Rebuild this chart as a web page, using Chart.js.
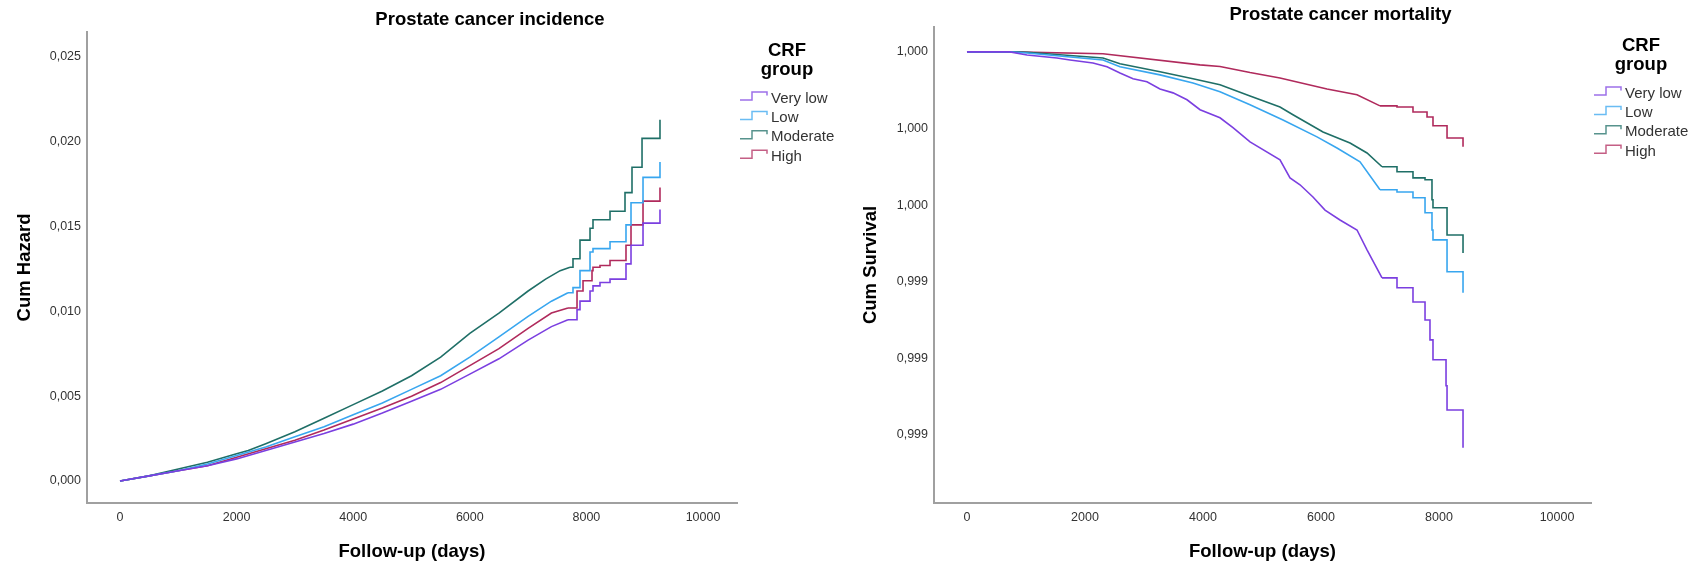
<!DOCTYPE html>
<html>
<head>
<meta charset="utf-8">
<script src="https://cdn.jsdelivr.net/npm/chart.js@4"></script>
<style>
  body { margin: 0; background: #fff; }
  #wrap { position: relative; width: 1693px; height: 566px; }
  canvas { position: absolute; top: 0; }
</style>
</head>
<body>
<div id="wrap">
  <canvas id="incChart" width="846" height="566" style="left:0"></canvas>
  <canvas id="mortChart" width="847" height="566" style="left:846px"></canvas>
</div>
<script>
const groups = ['Very low', 'Low', 'Moderate', 'High'];
const groupColors = ['#7b3fe0', '#38a6ef', '#1f6f67', '#b02a5c'];

const dayTicks = [0, 2000, 4000, 6000, 8000, 10000];
const hazardTicks = [0, 0.005, 0.010, 0.015, 0.020, 0.025];
const survivalTicks = [1.0, 0.9998, 0.9996, 0.9994, 0.9992, 0.9990];

// Prostate cancer incidence: [day, cum hazard]
const incVeryLow = [[0,0],[500,0.0003],[1000,0.0006],[1500,0.0009],[2000,0.0013],[2500,0.0018],[3000,0.0023],[3500,0.0028],[4000,0.00335],[4500,0.0040],[5000,0.0047],[5500,0.0054],[6000,0.0063],[6500,0.0072],[7000,0.0083],[7400,0.0091],[7684,0.0095],[7839,0.0101],[7890,0.0106],[8062,0.0112],[8113,0.0115],[8233,0.0117],[8405,0.0119],[8679,0.0128],[8765,0.0139],[8971,0.0152],[9262,0.0160]];
const incLow = [[0,0],[500,0.0003],[1000,0.0006],[1500,0.0010],[2000,0.0015],[2500,0.0020],[3000,0.0026],[3500,0.0032],[4000,0.0039],[4500,0.0046],[5000,0.0054],[5500,0.0062],[6000,0.0073],[6500,0.0085],[7000,0.0097],[7400,0.0106],[7684,0.0111],[7770,0.0114],[7890,0.0124],[8062,0.0135],[8113,0.0137],[8405,0.0141],[8679,0.0151],[8765,0.0164],[8971,0.0179],[9262,0.0188]];
const incModerate = [[0,0],[500,0.0003],[1000,0.0007],[1500,0.0011],[2000,0.0016],[2200,0.0018],[2500,0.0022],[3000,0.0029],[3500,0.0037],[4000,0.0045],[4500,0.0053],[5000,0.0062],[5500,0.0073],[6000,0.0087],[6500,0.0099],[7000,0.0112],[7300,0.0119],[7550,0.0124],[7719,0.0126],[7770,0.0131],[7890,0.0142],[8062,0.0149],[8113,0.0154],[8405,0.0159],[8662,0.0170],[8782,0.0185],[8954,0.0202],[9262,0.0213]];
const incHigh = [[0,0],[500,0.0003],[1000,0.0006],[1500,0.0009],[2000,0.0014],[2500,0.0019],[3000,0.0024],[3500,0.0030],[4000,0.00365],[4500,0.0043],[5000,0.0050],[5500,0.0058],[6000,0.0068],[6500,0.0078],[7000,0.0090],[7400,0.0099],[7684,0.0102],[7839,0.0112],[7942,0.0118],[8096,0.0124],[8113,0.0126],[8233,0.0127],[8405,0.0130],[8679,0.0139],[8765,0.0151],[8971,0.0165],[9262,0.0173]];
// day from which the curve is drawn as visible steps
const incStepFrom = [7684, 7684, 7719, 7684];

// Prostate cancer mortality: [day, cum survival]
const mortVeryLow = [[0,1],[730,1],[1017,0.999992],[1525,0.999984],[1746,0.999979],[2135,0.999971],[2373,0.999961],[2593,0.999945],[2814,0.999930],[3050,0.999922],[3271,0.999903],[3492,0.999893],[3729,0.999875],[3950,0.999849],[4288,0.999828],[4508,0.999802],[4797,0.999765],[5305,0.999718],[5475,0.999671],[5644,0.999653],[5864,0.999621],[6068,0.999587],[6322,0.999561],[6610,0.999535],[6780,0.999483],[7034,0.999410],[7288,0.999384],[7559,0.999347],[7763,0.999300],[7847,0.999248],[7898,0.999196],[8119,0.999128],[8136,0.999065],[8407,0.998966]];
const mortLow = [[0,1],[730,1],[1017,0.999997],[2305,0.999979],[2593,0.999961],[3271,0.999940],[3830,0.999919],[4288,0.999896],[4797,0.999862],[5356,0.999822],[5932,0.999778],[6271,0.999749],[6661,0.999713],[7000,0.999640],[7288,0.999634],[7559,0.999619],[7763,0.999580],[7881,0.999535],[7898,0.999509],[8136,0.999426],[8407,0.999371]];
const mortModerate = [[0,1],[730,1],[1017,0.999999],[2305,0.999984],[2593,0.999969],[3271,0.999948],[3830,0.999930],[4288,0.999914],[4797,0.999885],[5305,0.999856],[5525,0.999836],[6034,0.999791],[6492,0.999762],[6780,0.999736],[7034,0.999700],[7288,0.999687],[7559,0.999671],[7763,0.999666],[7881,0.999614],[7898,0.999593],[8136,0.999522],[8407,0.999475]];
const mortHigh = [[0,1],[730,1],[2305,0.999995],[3949,0.999966],[4288,0.999962],[4797,0.999946],[5305,0.999932],[6102,0.999903],[6610,0.999888],[7000,0.999859],[7288,0.999856],[7559,0.999843],[7797,0.999830],[7898,0.999807],[8136,0.999775],[8407,0.999752]];
const mortStepFrom = [7034, 7000, 7034, 7000];

const FONT = '"Liberation Sans", Arial, sans-serif';

function buildDatasets(series, stepFrom) {
  const sets = [];
  series.forEach((pts, i) => {
    const smooth = pts.filter(p => p[0] <= stepFrom[i]).map(p => ({ x: p[0], y: p[1] }));
    const tail = pts.filter(p => p[0] >= stepFrom[i]).map(p => ({ x: p[0], y: p[1] }));
    const base = { borderColor: groupColors[i], borderWidth: 1.6, pointRadius: 0, fill: false };
    sets.push(Object.assign({ label: groups[i], data: smooth, stepped: false, tension: 0 }, base));
    sets.push(Object.assign({ label: groups[i], data: tail, stepped: 'before' }, base));
  });
  return sets;
}

// panel title + "CRF group" legend with the step glyphs
const panelText = {
  id: 'panelText',
  afterDraw(chart, args, opts) {
    const ctx = chart.ctx;
    const area = chart.chartArea;
    ctx.save();
    ctx.fillStyle = '#000';
    ctx.textBaseline = 'middle';
    ctx.textAlign = 'center';
    ctx.font = 'bold 18.5px ' + FONT;
    ctx.fillText(opts.title, (area.left + area.right) / 2 + 78, area.top - 12);

    const lx = area.right + 50;
    ctx.fillText('CRF', lx, area.top + 19);
    ctx.fillText('group', lx, area.top + 38);

    ctx.font = '15px ' + FONT;
    ctx.textAlign = 'left';
    groups.forEach((g, i) => {
      const y = area.top + 66.5 + i * 19.4;
      const x0 = area.right + 3;
      ctx.globalAlpha = 0.75;
      ctx.strokeStyle = groupColors[i];
      ctx.lineWidth = 1.5;
      ctx.beginPath();
      ctx.moveTo(x0, y + 1.5);
      ctx.lineTo(x0 + 12, y + 1.5);
      ctx.lineTo(x0 + 12, y - 6.5);
      ctx.lineTo(x0 + 27, y - 6.5);
      ctx.lineTo(x0 + 27, y - 3);
      ctx.stroke();
      ctx.globalAlpha = 1;
      ctx.fillStyle = '#333';
      ctx.fillText(g, x0 + 31, y);
    });
    ctx.restore();
  }
};

function makeChart(id, cfg) {
  const fmt3 = v => v.toFixed(3).replace('.', ',');
  return new Chart(document.getElementById(id), {
    type: 'line',
    data: { datasets: buildDatasets(cfg.series, cfg.stepFrom) },
    options: {
      responsive: false,
      animation: false,
      layout: { padding: { top: cfg.top, right: cfg.right, left: 0, bottom: 0 } },
      plugins: {
        legend: { display: false },
        tooltip: { enabled: false },
        panelText: { title: cfg.title }
      },
      scales: {
        x: {
          type: 'linear',
          min: cfg.xMin,
          max: cfg.xMax,
          grid: { display: false, drawTicks: false },
          border: { display: true, color: '#a0a0a0', width: 2 },
          afterBuildTicks: s => { s.ticks = dayTicks.map(v => ({ value: v })); },
          afterFit: s => { s.height = 63; },
          ticks: { font: { family: FONT, size: 12.5 }, color: '#333', padding: 7, maxRotation: 0, callback: v => String(v) },
          title: { display: true, text: 'Follow-up (days)', color: '#000', font: { family: FONT, size: 18.5, weight: 'bold' }, padding: { top: 0, bottom: 3 } }
        },
        y: {
          type: 'linear',
          min: cfg.yMin,
          max: cfg.yMax,
          grid: { display: false, drawTicks: false },
          border: { display: true, color: '#a0a0a0', width: 2 },
          afterBuildTicks: s => { s.ticks = cfg.yTicks.map(v => ({ value: v })); },
          afterFit: s => { s.width = cfg.left; },
          ticks: { font: { family: FONT, size: 12.5 }, color: '#333', padding: 6, callback: fmt3 },
          title: { display: true, text: cfg.yTitle, color: '#000', font: { family: FONT, size: 18.5, weight: 'bold' }, padding: { top: 14, bottom: 0 } }
        }
      }
    },
    plugins: [panelText]
  });
}

makeChart('incChart', {
  title: 'Prostate cancer incidence',
  yTitle: 'Cum Hazard',
  series: [incVeryLow, incLow, incModerate, incHigh],
  stepFrom: incStepFrom,
  yTicks: hazardTicks,
  xMin: -566, xMax: 10583,
  yMin: -0.0013, yMax: 0.02647,
  top: 32, right: 109, left: 87
});

makeChart('mortChart', {
  title: 'Prostate cancer mortality',
  yTitle: 'Cum Survival',
  series: [mortVeryLow, mortLow, mortModerate, mortHigh],
  stepFrom: mortStepFrom,
  yTicks: survivalTicks,
  xMin: -559, xMax: 10576,
  yMin: 0.998822, yMax: 1.000065,
  top: 27, right: 102, left: 88
});
</script>
</body>
</html>
